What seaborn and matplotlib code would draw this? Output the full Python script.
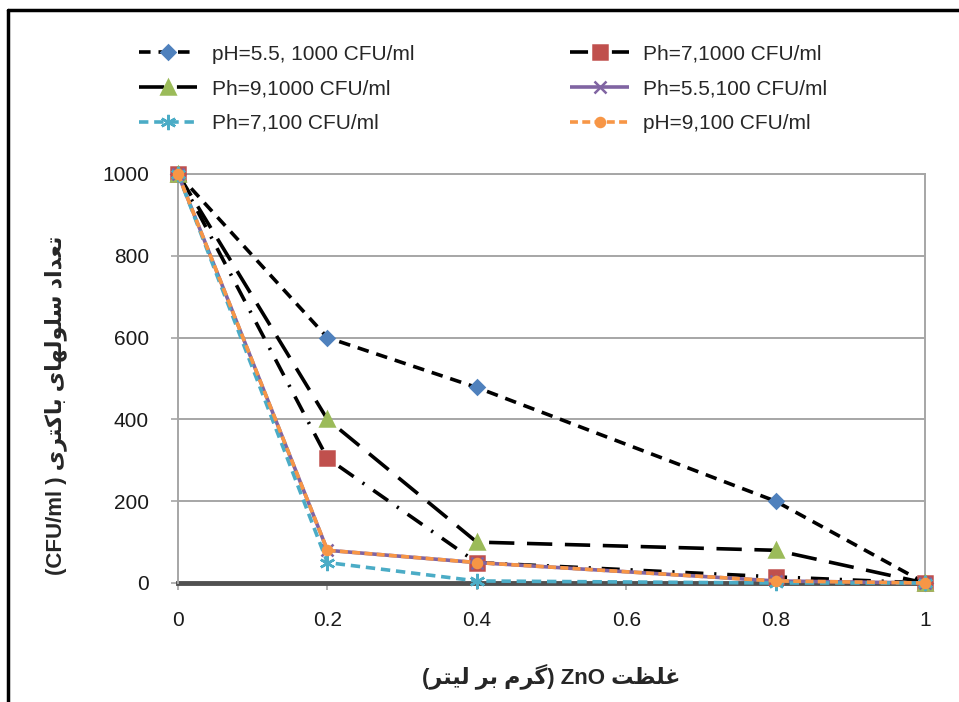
import matplotlib
matplotlib.use('Agg')
import matplotlib.pyplot as plt
import matplotlib.lines as mlines
import seaborn as sns
import pandas as pd

################################################################################

x_vals = [0, 0.2, 0.4, 0.8, 1]

ph55_1000 = [1000, 600, 478, 200, 0]
ph7_1000 = [1000, 305, 50, 15, 0]
ph9_1000 = [1000, 400, 100, 80, 0]
ph55_100 = [1000, 80, 50, 5, 0]
ph7_100 = [1000, 50, 5, 0, 0]
ph9_100 = [1000, 80, 50, 5, 0]

series_names = [
    'pH=5.5, 1000 CFU/ml',
    'Ph=7,1000 CFU/ml',
    'Ph=9,1000 CFU/ml',
    'Ph=5.5,100 CFU/ml',
    'Ph=7,100 CFU/ml',
    'pH=9,100 CFU/ml',
]

x_ticks = [0, 0.2, 0.4, 0.6, 0.8, 1]
x_tick_labels = ['0', '0.2', '0.4', '0.6', '0.8', '1']
y_ticks = [0, 200, 400, 600, 800, 1000]

# axis titles, written in logical order and shaped below
x_title_words = ['غلظت', 'ZnO', '(گرم', 'بر', 'لیتر)']
y_title_words = ['تعداد', 'سلولهای', 'باکتری', '(', 'CFU/ml)']

################################################################################

# presentation forms: (isolated, final, initial, medial); two entries = right-joining only
FORMS = {
    'ا': ('\uFE8D', '\uFE8E'),
    'ب': ('\uFE8F', '\uFE90', '\uFE91', '\uFE92'),
    'ت': ('\uFE95', '\uFE96', '\uFE97', '\uFE98'),
    'د': ('\uFEA9', '\uFEAA'),
    'ر': ('\uFEAD', '\uFEAE'),
    'س': ('\uFEB1', '\uFEB2', '\uFEB3', '\uFEB4'),
    'ظ': ('\uFEC5', '\uFEC6', '\uFEC7', '\uFEC8'),
    'ع': ('\uFEC9', '\uFECA', '\uFECB', '\uFECC'),
    'غ': ('\uFECD', '\uFECE', '\uFECF', '\uFED0'),
    'ل': ('\uFEDD', '\uFEDE', '\uFEDF', '\uFEE0'),
    'م': ('\uFEE1', '\uFEE2', '\uFEE3', '\uFEE4'),
    'ه': ('\uFEE9', '\uFEEA', '\uFEEB', '\uFEEC'),
    'و': ('\uFEED', '\uFEEE'),
    'ک': ('\uFB8E', '\uFB8F', '\uFB90', '\uFB91'),
    'گ': ('\uFB92', '\uFB93', '\uFB94', '\uFB95'),
    'ی': ('\uFBFC', '\uFBFD', '\uFBFE', '\uFBFF'),
}

MIRROR = {'(': ')', ')': '('}


def mirror(s: str) -> str:
    return ''.join(MIRROR.get(c, c) for c in reversed(s))


def is_arabic(word: str) -> bool:
    return any(ch in FORMS for ch in word)


def shape_word(word: str) -> str:
    out = []
    for i, ch in enumerate(word):
        if ch not in FORMS:
            out.append(MIRROR.get(ch, ch))
            continue
        prev_joins = i > 0 and word[i - 1] in FORMS and len(FORMS[word[i - 1]]) == 4
        next_joins = i < len(word) - 1 and word[i + 1] in FORMS and len(FORMS[ch]) == 4
        idx = {(False, False): 0, (True, False): 1, (False, True): 2, (True, True): 3}[(prev_joins, next_joins)]
        out.append(FORMS[ch][idx])
    return ''.join(reversed(out))


def latin_in_rtl(word: str) -> str:
    # latin run inside a right-to-left line: surrounding brackets swap sides and mirror
    core = word.strip('()')
    if not core:
        return mirror(word)
    lead = word[:len(word) - len(word.lstrip('()'))]
    trail = word[len(word.rstrip('()')):]
    return mirror(trail) + core + mirror(lead)


def rtl_line(words: list) -> str:
    return ' '.join(shape_word(w) if is_arabic(w) else latin_in_rtl(w) for w in reversed(words))


################################################################################

df = pd.DataFrame({
    'x': x_vals * 6,
    'y': ph55_1000 + ph7_1000 + ph9_1000 + ph55_100 + ph7_100 + ph9_100,
    'series': [n for n in series_names for _ in x_vals],
})

styles = {
    series_names[0]: dict(color='black', dashes=(3.2, 2.2), marker='D', ms=7.5, mc='#4F81BD'),
    series_names[1]: dict(color='black', dashes=(5, 3, 0.6, 3), marker='s', ms=10.5, mc='#C0504D'),
    series_names[2]: dict(color='black', dashes=(7, 3.5), marker='^', ms=10.5, mc='#9BBB59'),
    series_names[3]: dict(color='#8064A2', dashes=(1, 0), marker='x', ms=9, mc='#8064A2'),
    series_names[4]: dict(color='#4BACC6', dashes=(2.6, 1.6), marker=(6, 2, 0), ms=11, mc='#4BACC6'),
    series_names[5]: dict(color='#F79646', dashes=(2.2, 1.2), marker='o', ms=6.5, mc='#F79646'),
}

sns.set_style('white')
plt.rcParams['font.family'] = ['Liberation Sans', 'DejaVu Sans']

fig = plt.figure(figsize=(9.59, 7.02), dpi=100)
ax = fig.add_axes([178 / 959, 1 - 583 / 702, 747 / 959, 409 / 702])

for y in y_ticks[1:]:
    ax.axhline(y, color='#A6A6A6', lw=1.4, zorder=0)

handles = []
for name in series_names:
    st = styles[name]
    line_kw = dict(
        color=st['color'],
        lw=2.6,
        dashes=st['dashes'],
        marker=st['marker'],
        markersize=st['ms'],
        markerfacecolor=st['mc'],
        markeredgecolor=st['mc'],
        markeredgewidth=1.8,
    )
    sns.lineplot(
        data=df[df.series == name],
        x='x',
        y='y',
        ax=ax,
        clip_on=False,
        zorder=3,
        **line_kw
    )
    handles.append(mlines.Line2D([], [], label=name, **line_kw))

ax.set_xlim(0, 1)
ax.set_ylim(0, 1000)
ax.set_xticks(x_ticks)
ax.set_xticklabels(x_tick_labels)
ax.set_yticks(y_ticks)

for side in ['left', 'right', 'top']:
    ax.spines[side].set_color('#A6A6A6')
    ax.spines[side].set_linewidth(1.4)
ax.spines['bottom'].set_color('#505050')
ax.spines['bottom'].set_linewidth(3.5)
ax.spines['bottom'].set_zorder(2)

ax.tick_params(axis='both', which='both', direction='out', length=5, width=1.2, color='#A6A6A6',
               labelsize=15, labelcolor='#1a1a1a', bottom=True, left=True)
ax.tick_params(axis='x', pad=15)
ax.tick_params(axis='y', pad=16)

ax.set_xlabel(rtl_line(x_title_words), fontsize=16, fontweight='bold', labelpad=24)
ax.set_ylabel(rtl_line(y_title_words), fontsize=16, fontweight='bold')
ax.yaxis.set_label_coords(-0.149, 0.435)

order = [0, 2, 4, 1, 3, 5]
fig.legend(
    [handles[i] for i in order],
    [series_names[i] for i in order],
    ncol=2,
    loc='upper left',
    bbox_to_anchor=(120 / 959, 1 - 26 / 702),
    frameon=False,
    prop={'size': 15},
    handlelength=2.8,
    handletextpad=0.7,
    columnspacing=7.5,
    labelspacing=0.75,
)

# outer frame of the original picture (left and top edges only)
fig.add_artist(mlines.Line2D([8 / 959, 8 / 959], [0, 1 - 10 / 702], color='black', lw=2.5, transform=fig.transFigure))
fig.add_artist(mlines.Line2D([8 / 959, 1], [1 - 10 / 702, 1 - 10 / 702], color='black', lw=2.5, transform=fig.transFigure))

plt.savefig('out.png', dpi=100)
